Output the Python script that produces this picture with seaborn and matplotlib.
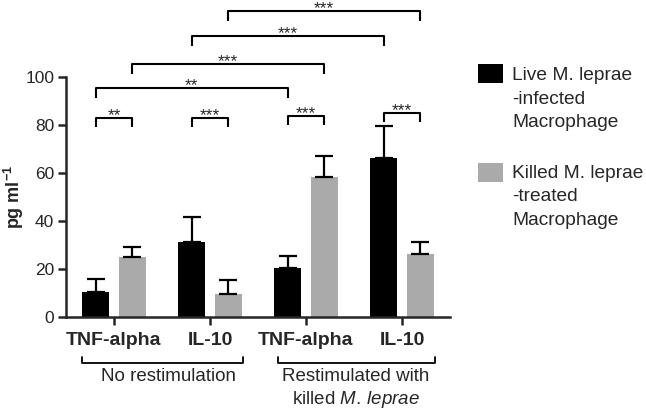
import matplotlib
matplotlib.use("Agg")
import matplotlib.pyplot as plt
import seaborn as sns
import pandas as pd
import numpy as np
from matplotlib.patches import Rectangle
import matplotlib.transforms as mtransforms

cytokines = ["TNF-alpha", "IL-10", "TNF-alpha ", "IL-10 "]
tick_labels = ["TNF-alpha", "IL-10", "TNF-alpha", "IL-10"]
groups = ["Live M. leprae\n-infected\nMacrophage", "Killed M. leprae\n-treated\nMacrophage"]
live_means = [10.4, 31.0, 20.1, 66.3]
live_err = [5.4, 10.4, 5.2, 13.0]
killed_means = [24.9, 9.4, 58.3, 26.0]
killed_err = [4.0, 5.8, 8.8, 5.1]
colors = ["#000000", "#aaaaaa"]

# (bar_a, bar_b, y, label); bar index = (group, category)
brackets = [
    ((0, 0), (1, 0), 83.0, "**"),
    ((0, 1), (1, 1), 83.0, "***"),
    ((0, 2), (1, 2), 83.8, "***"),
    ((0, 3), (1, 3), 85.0, "***"),
    ((0, 0), (0, 2), 95.2, "**"),
    ((1, 0), (1, 2), 105.2, "***"),
    ((0, 1), (0, 3), 117.0, "***"),
    ((1, 1), (1, 3), 127.4, "***"),
]

sns.set_style("ticks")
plt.rcParams["font.family"] = ["Liberation Sans", "DejaVu Sans"]
plt.rcParams["mathtext.fontset"] = "custom"
plt.rcParams["mathtext.rm"] = "Liberation Sans"
plt.rcParams["mathtext.it"] = "Liberation Sans:italic"
plt.rcParams["mathtext.bf"] = "Liberation Sans:bold"

df = pd.DataFrame({
    "cytokine": cytokines * 2,
    "group": [groups[0]] * 4 + [groups[1]] * 4,
    "value": live_means + killed_means,
})

fig = plt.figure(figsize=(6.46, 4.12), dpi=100)
ax = fig.add_axes([66 / 646, 1 - 316.7 / 412, (450 - 66) / 646, 240 / 412])

sns.barplot(data=df, x="cytokine", y="value", hue="group", palette=colors,
            width=0.76, gap=0.263, ax=ax, legend=False, errorbar=None,
            saturation=1, linewidth=0)

# bar centres from the drawn patches
bars = [p for p in ax.patches if p.get_width() > 0][:8]
centers = {}
for i, p in enumerate(bars):
    g, c = divmod(i, 4)
    centers[(g, c)] = p.get_x() + p.get_width() / 2

errs = [live_err, killed_err]
means = [live_means, killed_means]
for g in range(2):
    xs = [centers[(g, c)] for c in range(4)]
    ax.errorbar(xs, means[g], yerr=[np.zeros(4), errs[g]], fmt="none",
                ecolor="black", elinewidth=1.6, capsize=6.5, capthick=1.6, zorder=1)

ax.set_ylim(0, 100)
ax.set_xlim(-0.5, 3.5)
ax.set_yticks([0, 20, 40, 60, 80, 100])
ax.tick_params(axis="y", labelsize=12.5, width=1.8, length=6, direction="out", pad=2.5)
ax.tick_params(axis="x", width=1.8, length=6, direction="out", pad=5)
ax.set_xticks(range(4))
ax.set_xticklabels(tick_labels, fontsize=14, fontweight="bold")
for s in ["top", "right"]:
    ax.spines[s].set_visible(False)
for s in ["left", "bottom"]:
    ax.spines[s].set_linewidth(1.8)
ax.set_xlabel("")
ax.set_ylabel(r"$\mathbf{pg\ ml^{-1}}$", fontsize=13)
ax.yaxis.set_label_coords(-0.105, 0.5)

# significance brackets
for a, b, y, lab in brackets:
    xa, xb = centers[a], centers[b]
    drop = 4.0
    ax.plot([xa, xa, xb, xb], [y - drop, y, y, y - drop], color="black",
            lw=1.5, clip_on=False, solid_capstyle="butt")
    ax.text((xa + xb) / 2, y - 1.0, lab, ha="center", va="baseline", fontsize=12.5)

# group brackets under x-axis
trans = mtransforms.blended_transform_factory(ax.transData, ax.transAxes)
for x0, x1 in [(-0.333, 1.344), (1.708, 3.344)]:
    ax.plot([x0, x0, x1, x1], [-0.168, -0.193, -0.193, -0.168], color="black",
            lw=1.3, transform=trans, clip_on=False)
ax.text(0.57, -0.251, "No restimulation", transform=trans, ha="center",
        va="center", fontsize=13.5)
ax.text(2.52, -0.251, "Restimulated with", transform=trans, ha="center",
        va="center", fontsize=13.5)
ax.text(2.52, -0.343, r"killed $\mathit{M.\,leprae}$", transform=trans,
        ha="center", va="center", fontsize=13.5)

# legend (manual, patch aligned with first line)
for (py, ty), col, lab in [((64, 75), colors[0], groups[0]), ((163, 173), colors[1], groups[1])]:
    fig.patches.append(Rectangle((478 / 646, 1 - (py + 19) / 412), 25 / 646, 19 / 412,
                                 transform=fig.transFigure, facecolor=col, edgecolor="none"))
    fig.text(512 / 646, 1 - (ty - 8) / 412, lab, ha="left", va="top",
             fontsize=13.8, linespacing=1.5)

fig.savefig("out.png", dpi=100)
